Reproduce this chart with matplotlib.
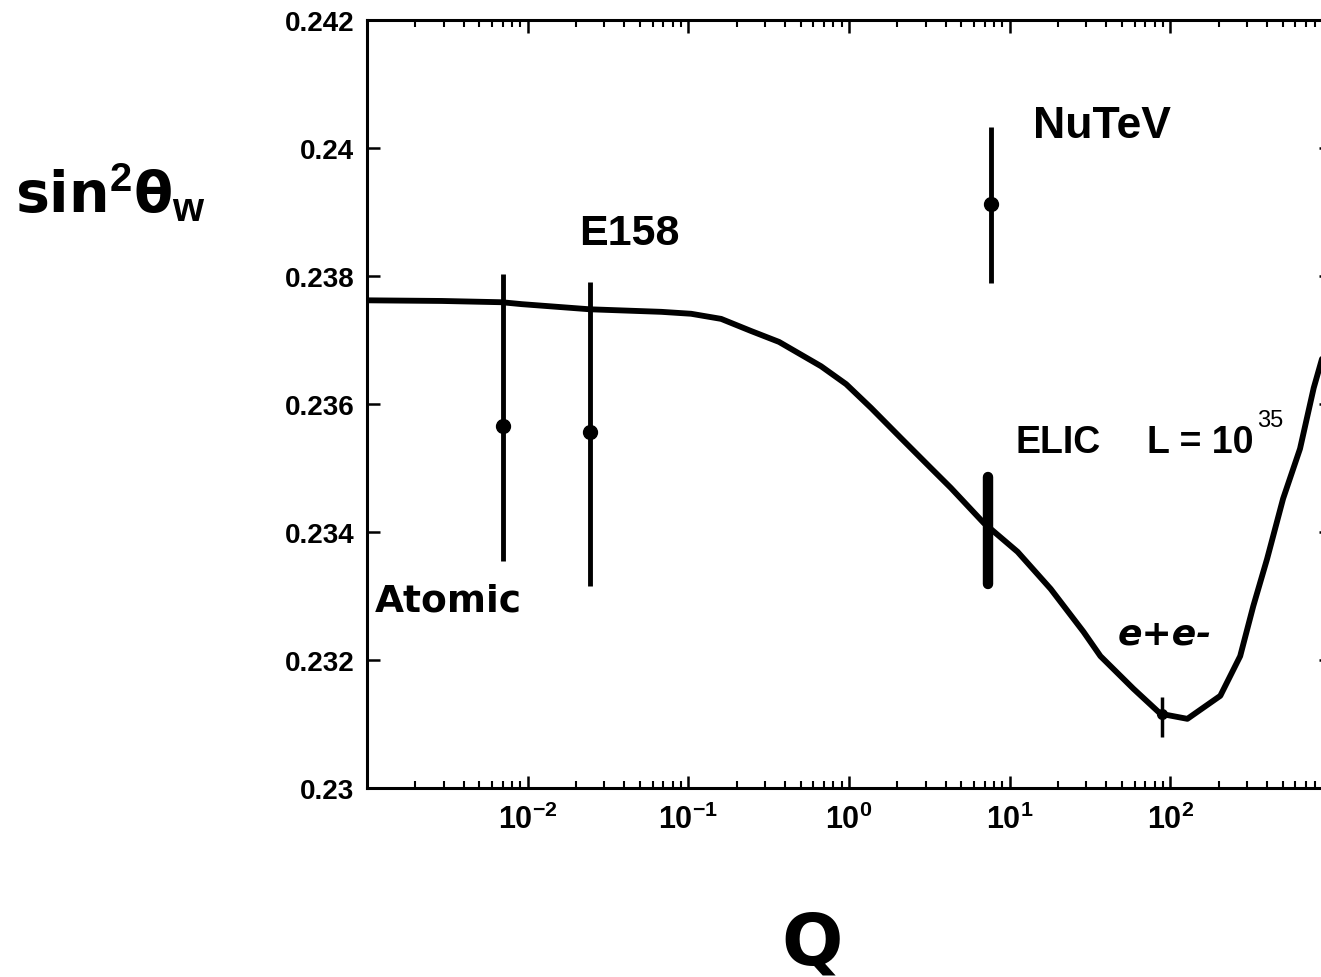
import matplotlib
matplotlib.use("Agg")
import matplotlib.pyplot as plt
from matplotlib.ticker import LogLocator, NullFormatter

plt.rcParams["font.family"] = ["Liberation Sans", "DejaVu Sans"]
plt.rcParams["font.weight"] = "bold"
plt.rcParams["mathtext.fontset"] = "custom"
plt.rcParams["mathtext.rm"] = "Liberation Sans:bold"
plt.rcParams["mathtext.it"] = "Liberation Sans:bold:italic"
plt.rcParams["mathtext.bf"] = "Liberation Sans:bold"

# running sin^2(theta_W) curve
curve_q = [0.001, 0.00292, 0.0069, 0.0092, 0.0243, 0.068, 0.104, 0.160, 0.246,
           0.367, 0.67, 0.96, 1.37, 2.10, 3.23, 4.30, 6.90, 11.2, 18.0, 28.8,
           36.7, 58.9, 86.7, 127.6, 204.6, 272.0, 328.0, 400.0, 503.0, 641.0,
           780.0, 1000.0]
curve_s2w = [0.23762, 0.23761, 0.23759, 0.23756, 0.23748, 0.23744, 0.23741,
             0.23733, 0.23714, 0.23697, 0.23659, 0.23631, 0.23594, 0.23547,
             0.23500, 0.23469, 0.23414, 0.23369, 0.23311, 0.23244, 0.23206,
             0.23155, 0.23116, 0.23108, 0.23144, 0.23206, 0.23284, 0.23358,
             0.23452, 0.23530, 0.23625, 0.23720]

# measurements
meas_names = ["Atomic", "E158", "NuTeV", "e+e-"]
meas_q = [0.0070, 0.0243, 7.6, 89.0]
meas_s2w = [0.23566, 0.23556, 0.23913, 0.23116]
meas_err_lo = [0.00211, 0.00240, 0.00124, 0.00036]
meas_err_hi = [0.00237, 0.00235, 0.00120, 0.00026]

# projected ELIC point
elic_q = 7.3
elic_s2w = 0.23402
elic_err = 0.00084

y_ticks = [0.23, 0.232, 0.234, 0.236, 0.238, 0.24, 0.242]
y_tick_labels = ["0.23", "0.232", "0.234", "0.236", "0.238", "0.24", "0.242"]
x_ticks = [1e-2, 1e-1, 1e0, 1e1, 1e2]
x_tick_labels = ["$10^{-2}$", "$10^{-1}$", "$10^{0}$", "$10^{1}$", "$10^{2}$"]


def main() -> None:
    fig = plt.figure(figsize=(13.21, 9.78), dpi=100)
    ax = fig.add_axes([0.2778, 0.1933, 0.7298, 0.7852])

    ax.plot(curve_q, curve_s2w, color="black", linewidth=4.2,
            solid_joinstyle="round", solid_capstyle="round")

    for i in range(3):
        ax.errorbar([meas_q[i]], [meas_s2w[i]],
                    yerr=[[meas_err_lo[i]], [meas_err_hi[i]]],
                    fmt="o", color="black", markersize=10, elinewidth=3.5,
                    capsize=0)
    ax.errorbar([meas_q[3]], [meas_s2w[3]],
                yerr=[[meas_err_lo[3]], [meas_err_hi[3]]],
                fmt="o", color="black", markersize=7, elinewidth=2.5,
                capsize=0)

    ax.plot([elic_q, elic_q], [elic_s2w - elic_err, elic_s2w + elic_err],
            color="black", linewidth=7.5, solid_capstyle="round")

    ax.set_xscale("log")
    ax.set_xlim(1e-3, 1e3)
    ax.set_ylim(0.23, 0.242)

    ax.set_xticks(x_ticks)
    ax.set_xticklabels(x_tick_labels)
    ax.xaxis.set_minor_locator(LogLocator(base=10, subs=range(2, 10), numticks=20))
    ax.xaxis.set_minor_formatter(NullFormatter())
    ax.set_yticks(y_ticks)
    ax.set_yticklabels(y_tick_labels)

    ax.tick_params(axis="both", which="major", direction="in", length=9,
                   width=1.8, top=True, right=True, labelsize=20)
    ax.tick_params(axis="x", which="major", labelsize=22, pad=11)
    ax.tick_params(axis="y", which="major", pad=9)
    ax.tick_params(axis="both", which="minor", direction="in", length=5,
                   width=1.5, top=True, right=True)
    for spine in ax.spines.values():
        spine.set_linewidth(2.2)

    ax.text(0.00112, 0.23277, "Atomic", fontsize=27, fontweight="bold",
            family="DejaVu Sans", ha="left", va="baseline")
    ax.text(0.0210, 0.2385, "E158", fontsize=31, fontweight="bold",
            ha="left", va="baseline")
    ax.text(13.9, 0.24017, "NuTeV", fontsize=32, fontweight="bold",
            ha="left", va="baseline")
    ax.text(10.9, 0.23525, "ELIC", fontsize=27, fontweight="bold",
            ha="left", va="baseline")
    ax.text(71.9, 0.23525, "L = 10", fontsize=27, fontweight="bold",
            ha="left", va="baseline")
    ax.text(347.0, 0.23566, "35", fontsize=17, fontweight="normal",
            ha="left", va="baseline")
    ax.text(46.9, 0.23225, "e+e-", fontsize=26, fontweight="bold",
            style="italic", family="DejaVu Sans", ha="left", va="baseline")

    fig.text(0.011, 0.782, r"sin$^{2}$θ$_{\mathrm{w}}$", fontsize=41,
             fontweight="bold", family="DejaVu Sans", ha="left", va="baseline")
    fig.text(0.615, 0.034, "Q", fontsize=52, fontweight="bold",
             family="DejaVu Sans", ha="center", va="center")

    fig.savefig("out.png", dpi=100)
    plt.close(fig)


if __name__ == "__main__":
    main()
